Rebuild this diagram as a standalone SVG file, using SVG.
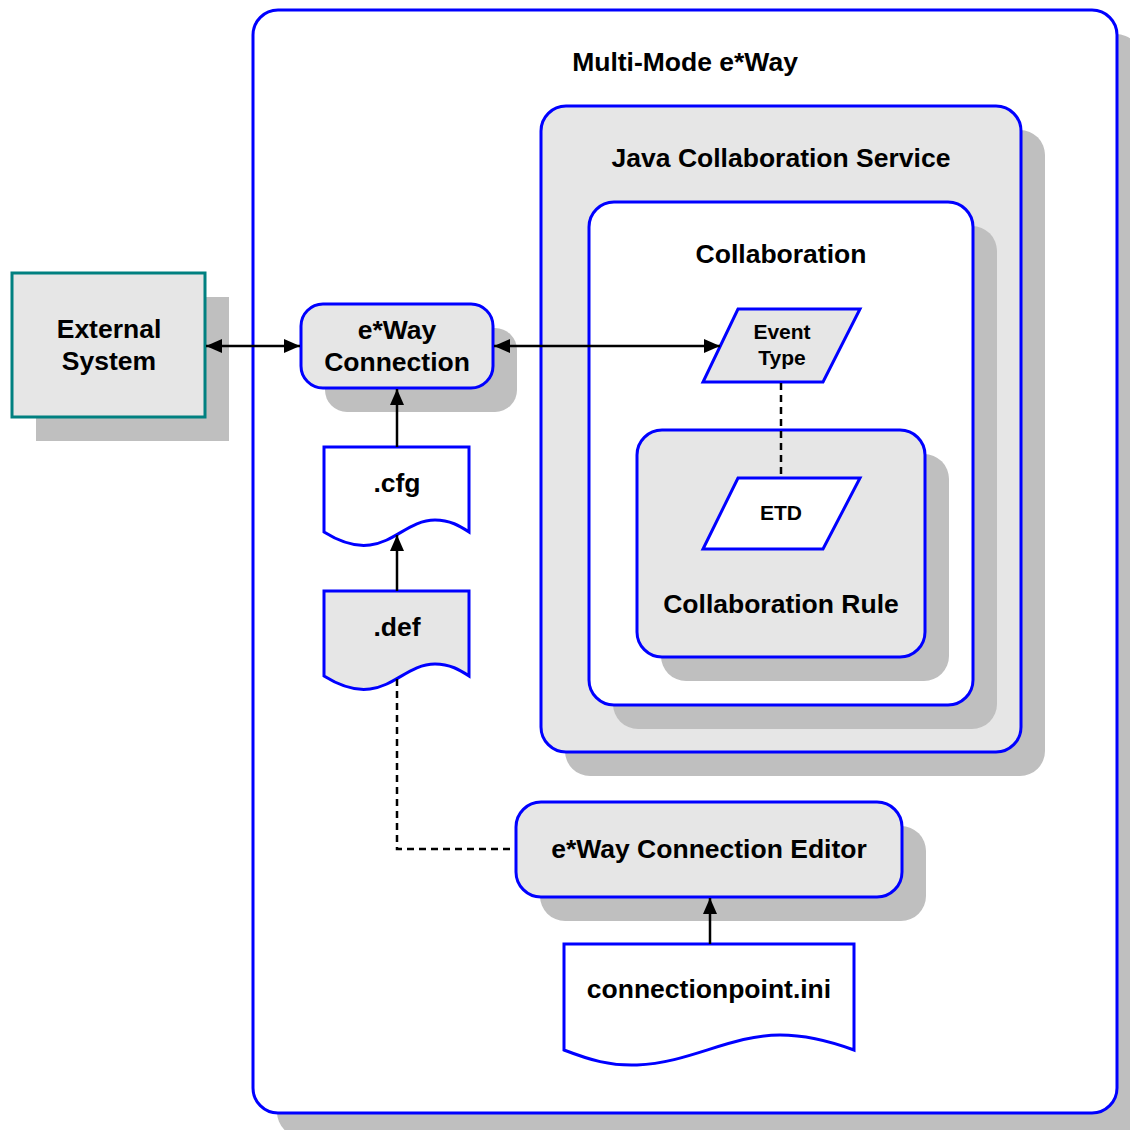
<svg xmlns="http://www.w3.org/2000/svg" width="1130" height="1130" viewBox="0 0 1130 1130">
<defs>
<style>
.sh{fill:#bfbfbf;stroke:none}
.bx{stroke:#0000ff;stroke-width:3}
.g{fill:#e6e6e6}
.w{fill:#ffffff}
text{font-family:"Liberation Sans",Arial,sans-serif;font-weight:bold;fill:#000;text-anchor:middle}
.t26{font-size:26.5px}
.t21{font-size:21px}
.ln{stroke:#000;stroke-width:2.5;fill:none}
.dash{stroke:#000;stroke-width:2.5;fill:none;stroke-dasharray:7,5}
</style>
<marker id="ah" markerUnits="userSpaceOnUse" markerWidth="17" markerHeight="16" refX="16" refY="8" orient="auto-start-reverse">
<path d="M0,1 L16,8 L0,15 Z" fill="#000"/>
</marker>
</defs>
<rect width="1130" height="1130" fill="#fff"/>

<g id="multi-mode-eway">
<rect class="sh" x="277" y="34" width="864" height="1103" rx="25"/>
<rect class="bx w" x="253" y="10" width="864" height="1103" rx="25"/>
<text class="t26" x="685" y="71">Multi-Mode e*Way</text>
</g>

<g id="java-collaboration-service">
<rect class="sh" x="565" y="130" width="480" height="646" rx="25"/>
<rect class="bx g" x="541" y="106" width="480" height="646" rx="25"/>
<text class="t26" x="781" y="167">Java Collaboration Service</text>
</g>

<g id="collaboration">
<rect class="sh" x="613" y="226" width="384" height="503" rx="25"/>
<rect class="bx w" x="589" y="202" width="384" height="503" rx="25"/>
<text class="t26" x="781" y="263">Collaboration</text>
</g>

<g id="collaboration-rule">
<rect class="sh" x="661" y="454" width="288" height="227" rx="25"/>
<rect class="bx g" x="637" y="430" width="288" height="227" rx="25"/>
<text class="t26" x="781" y="613">Collaboration Rule</text>
</g>

<g id="event-type">
<polygon class="bx g" points="738,309 860,309 823,382 703,382"/>
<text class="t21" x="782" y="339">Event</text>
<text class="t21" x="782" y="365">Type</text>
</g>

<g id="etd">
<polygon class="bx w" points="738,478 860,478 823,549 703,549"/>
<text class="t21" x="781" y="520">ETD</text>
</g>

<g id="external-system">
<rect class="sh" x="36" y="297" width="193" height="144"/>
<rect class="g" x="12" y="273" width="193" height="144" stroke="#008080" stroke-width="3"/>
<text class="t26" x="109" y="338">External</text>
<text class="t26" x="109" y="370">System</text>
</g>

<g id="eway-connection">
<rect class="sh" x="325" y="328" width="192" height="84" rx="22"/>
<rect class="bx g" x="301" y="304" width="192" height="84" rx="22"/>
<text class="t26" x="397" y="339">e*Way</text>
<text class="t26" x="397" y="371">Connection</text>
</g>

<g id="cfg">
<path class="bx w" d="M324,447 H469 V532 C460,526 450,520 435,520 C410,520 395,542 370,545 C355,547 340,542 324,532 Z"/>
<text class="t26" x="397" y="492">.cfg</text>
</g>

<g id="def">
<path class="bx g" d="M324,591 H469 V676 C460,670 450,664 435,664 C410,664 395,686 370,689 C355,691 340,686 324,676 Z"/>
<text class="t26" x="397" y="636">.def</text>
</g>

<g id="eway-connection-editor">
<rect class="sh" x="540" y="826" width="386" height="95" rx="25"/>
<rect class="bx g" x="516" y="802" width="386" height="95" rx="25"/>
<text class="t26" x="709" y="858">e*Way Connection Editor</text>
</g>

<g id="connectionpoint-ini">
<path class="bx w" d="M564,944 H854 V1050 C835,1043 810,1035 780,1035 C730,1035 690,1063 637,1065 C610,1066 590,1060 564,1050 Z"/>
<text class="t26" x="709" y="998">connectionpoint.ini</text>
</g>

<g id="connectors">
<line class="ln" x1="206" y1="346" x2="300" y2="346" marker-start="url(#ah)" marker-end="url(#ah)"/>
<line class="ln" x1="494" y1="346" x2="720" y2="346" marker-start="url(#ah)" marker-end="url(#ah)"/>
<line class="ln" x1="397" y1="447" x2="397" y2="389" marker-end="url(#ah)"/>
<line class="ln" x1="397" y1="591" x2="397" y2="535" marker-end="url(#ah)"/>
<line class="ln" x1="710" y1="944" x2="710" y2="898" marker-end="url(#ah)"/>
<line class="dash" x1="781" y1="383" x2="781" y2="477"/>
<polyline class="dash" points="397,679 397,849 515,849"/>
</g>
</svg>
